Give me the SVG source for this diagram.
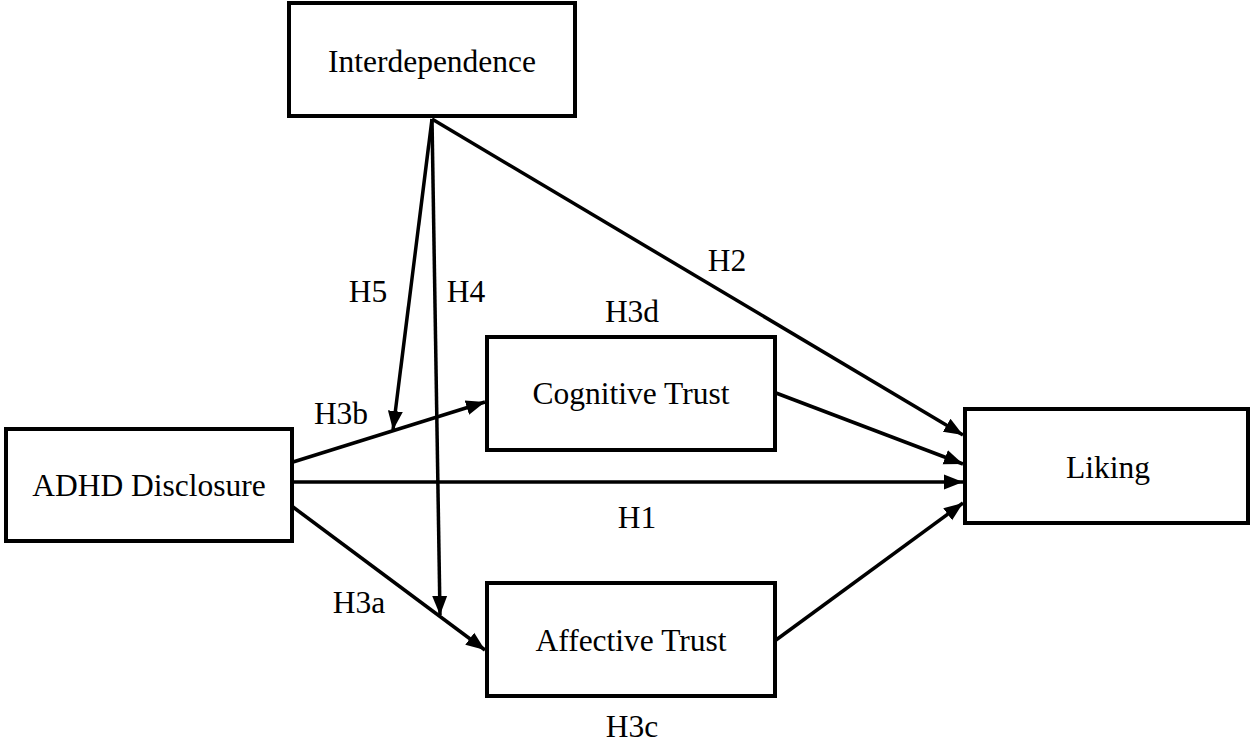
<svg xmlns="http://www.w3.org/2000/svg" width="1253" height="742" viewBox="0 0 1253 742">
<style>
.box{fill:#fff;stroke:#000;stroke-width:4}
.lbl{font-family:"Liberation Serif","Times New Roman",serif;font-size:31.5px;fill:#000;text-anchor:middle}
.edge{stroke:#000;stroke-width:3.5;fill:none;marker-end:url(#ah)}
</style>
<defs>
<marker id="ah" markerUnits="userSpaceOnUse" markerWidth="20" markerHeight="18" refX="19" refY="9" orient="auto">
<path d="M0,1.5 L19,9 L0,16.5 z" fill="#000"/>
</marker>
</defs>
<rect width="1253" height="742" fill="#fff"/>
<g id="connectors">
<line class="edge" x1="432" y1="119" x2="963" y2="435"/>
<line class="edge" x1="432" y1="119" x2="393" y2="430"/>
<line class="edge" x1="432" y1="119" x2="440" y2="615"/>
<line class="edge" x1="293" y1="462" x2="485" y2="402"/>
<line class="edge" x1="293" y1="482" x2="963" y2="482"/>
<line class="edge" x1="293" y1="507" x2="485" y2="650"/>
<line class="edge" x1="776" y1="393" x2="963" y2="464"/>
<line class="edge" x1="776" y1="640" x2="963" y2="503"/>
</g>
<g id="interdependence">
<rect class="box" x="289" y="3" width="286" height="113"/>
<text class="lbl" x="432" y="72">Interdependence</text>
</g>
<g id="adhd-disclosure">
<rect class="box" x="6" y="429" width="286" height="112"/>
<text class="lbl" x="149" y="496">ADHD Disclosure</text>
</g>
<g id="cognitive-trust">
<rect class="box" x="487" y="337" width="288" height="113"/>
<text class="lbl" x="631" y="404">Cognitive Trust</text>
</g>
<g id="affective-trust">
<rect class="box" x="487" y="583" width="288" height="113"/>
<text class="lbl" x="631" y="651">Affective Trust</text>
</g>
<g id="liking">
<rect class="box" x="965" y="409" width="283" height="114"/>
<text class="lbl" x="1108" y="478">Liking</text>
</g>
<g id="labels">
<text class="lbl" x="727" y="271">H2</text>
<text class="lbl" x="632" y="322">H3d</text>
<text class="lbl" x="368" y="302">H5</text>
<text class="lbl" x="466" y="302">H4</text>
<text class="lbl" x="341" y="424">H3b</text>
<text class="lbl" x="637" y="528">H1</text>
<text class="lbl" x="359" y="613">H3a</text>
<text class="lbl" x="632" y="737">H3c</text>
</g>
</svg>
